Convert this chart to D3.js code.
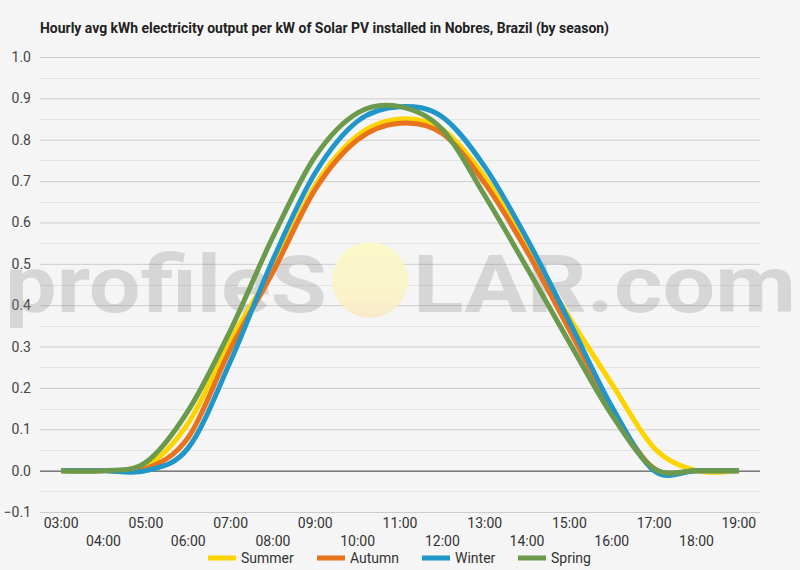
<!DOCTYPE html>
<html>
<head>
<meta charset="utf-8">
<script src="https://cdn.jsdelivr.net/npm/d3@7"></script>
<style>
  body { margin: 0; background: #f5f5f5; }
  svg { display: block; font-family: Roboto, "Noto Sans", sans-serif; }
</style>
</head>
<body>
<script>
// hours of the day (x categories)
var hours = ["03:00","04:00","05:00","06:00","07:00","08:00","09:00","10:00","11:00",
             "12:00","13:00","14:00","15:00","16:00","17:00","18:00","19:00"];

// kWh per kW, by season
var summer = [0, 0, 0.01, 0.115, 0.315, 0.49, 0.69, 0.81, 0.85, 0.825, 0.71, 0.54, 0.37, 0.21, 0.055, 0, 0];
var autumn = [0, 0, 0.005, 0.08, 0.295, 0.48, 0.68, 0.80, 0.84, 0.815, 0.695, 0.53, 0.34, 0.15, 0.005, 0, 0];
var winter = [0, 0, 0, 0.055, 0.265, 0.51, 0.72, 0.845, 0.88, 0.855, 0.735, 0.56, 0.36, 0.155, 0, 0, 0];
var spring = [0, 0, 0.02, 0.145, 0.34, 0.565, 0.76, 0.865, 0.88, 0.825, 0.665, 0.49, 0.31, 0.135, 0.005, 0, 0];

var seriesNames = ["Summer", "Autumn", "Winter", "Spring"];
var seriesColors = ["#FDD400", "#E8731F", "#2196C8", "#6B9A4D"];
var yTicks = [-0.1, 0, 0.1, 0.2, 0.3, 0.4, 0.5, 0.6, 0.7, 0.8, 0.9, 1.0];

var title = "Hourly avg kWh electricity output per kW of Solar PV installed in Nobres, Brazil (by season)";

var width = 800, height = 570;
var plotLeft = 40, plotRight = 760, plotTop = 57, plotBottom = 512;

var svg = d3.select("body").append("svg")
  .attr("width", width)
  .attr("height", height)
  .style("background", "#f5f5f5");

var x = d3.scalePoint().domain(hours).range([plotLeft, plotRight]).padding(0.5);
var y = d3.scaleLinear().domain([-0.1, 1.0]).range([plotBottom, plotTop]);

// title
svg.append("text")
  .attr("x", 40).attr("y", 33)
  .attr("font-size", 15).attr("font-weight", "bold").attr("fill", "#222")
  .attr("textLength", 569).attr("lengthAdjust", "spacingAndGlyphs")
  .text(title);

// grid lines (minor every 0.05, major every 0.1)
var minor = d3.range(-0.05, 1.0, 0.1);
svg.append("g").selectAll("line").data(minor).enter().append("line")
  .attr("x1", plotLeft).attr("x2", plotRight)
  .attr("y1", function(d) { return Math.round(y(d)) + 0.5; })
  .attr("y2", function(d) { return Math.round(y(d)) + 0.5; })
  .attr("stroke", "#e3e3e3");

var yAxis = d3.axisLeft(y).tickValues(yTicks).tickSize(-(plotRight - plotLeft)).tickPadding(8)
  .tickFormat(d3.format(".1f"));
var gy = svg.append("g").attr("transform", "translate(" + plotLeft + ",0)").call(yAxis);
gy.select(".domain").remove();
gy.selectAll(".tick line").attr("stroke", function(d) { return d === 0 ? "#333" : "#cccccc"; });
gy.selectAll(".tick text").attr("font-size", 14).attr("fill", "#444")
  .attr("font-family", "Roboto").attr("x", -9);

// watermark
var wm = svg.append("g");
wm.append("text").attr("x", 5).attr("y", 312)
  .attr("font-size", 80).attr("font-weight", "bold").attr("fill", "#8a8a8a").attr("opacity", 0.28)
  .attr("textLength", 322).attr("lengthAdjust", "spacingAndGlyphs")
  .text("profileS");
var grad = svg.append("defs").append("linearGradient").attr("id", "sun")
  .attr("x1", 0).attr("y1", 0).attr("x2", 0).attr("y2", 1);
grad.append("stop").attr("offset", "0%").attr("stop-color", "#fbf8c4");
grad.append("stop").attr("offset", "70%").attr("stop-color", "#fbf3c6");
grad.append("stop").attr("offset", "100%").attr("stop-color", "#f8e6c6");
wm.append("circle").attr("cx", 370).attr("cy", 280).attr("r", 38)
  .attr("fill", "url(#sun)").attr("opacity", 0.9);
wm.append("text").attr("x", 413).attr("y", 312)
  .attr("font-size", 80).attr("font-weight", "bold").attr("fill", "#8a8a8a").attr("opacity", 0.28)
  .attr("textLength", 383).attr("lengthAdjust", "spacingAndGlyphs")
  .text("LAR.com");

// x axis labels, staggered in two rows
var xl = svg.append("g");
xl.selectAll("text").data(hours).enter().append("text")
  .attr("x", function(d) { return x(d); })
  .attr("y", function(d, i) { return i % 2 === 0 ? 528 : 546; })
  .attr("text-anchor", "middle")
  .attr("font-size", 14).attr("fill", "#333")
  .text(function(d) { return d; });

// lines
var all = [summer, autumn, winter, spring];
var line = d3.line()
  .x(function(d, i) { return x(hours[i]); })
  .y(function(d) { return y(d); })
  .curve(d3.curveCardinal.tension(0));

svg.append("g").selectAll("path").data(all).enter().append("path")
  .attr("d", function(d) { return line(d); })
  .attr("fill", "none")
  .attr("stroke", function(d, i) { return seriesColors[i]; })
  .attr("stroke-width", 5);

// legend
var legX = [208, 317, 422, 518];
var leg = svg.append("g").selectAll("g").data(seriesNames).enter().append("g")
  .attr("transform", function(d, i) { return "translate(" + legX[i] + ",558)"; });
leg.append("rect").attr("x", 0).attr("y", -2.5).attr("width", 28).attr("height", 5)
  .attr("fill", function(d, i) { return seriesColors[i]; });
leg.append("text").attr("x", 33).attr("y", 5)
  .attr("font-size", 14).attr("fill", "#333")
  .text(function(d) { return d; });
</script>
</body>
</html>
